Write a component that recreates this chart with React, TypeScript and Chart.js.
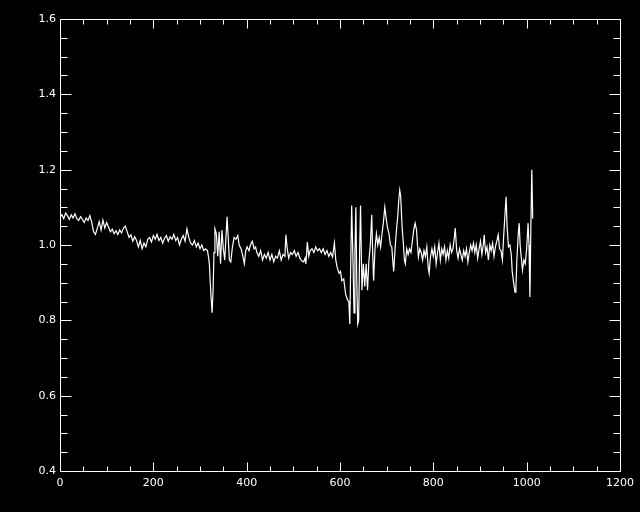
import React, { useEffect, useRef } from "react";
import { Chart, registerables } from "chart.js";

Chart.register(...registerables);

const xs = [
  0, 4, 8, 12, 16, 20, 24, 28, 32, 36, 40, 44, 48, 52, 56, 60, 64, 68, 72, 76, 80, 84, 88, 92, 96, 100,
  104, 108, 112, 116, 120, 124, 128, 132, 136, 140, 144, 148, 152, 156, 160, 164, 168, 172, 176, 180,
  184, 188, 192, 196, 200, 204, 208, 212, 216, 220, 224, 228, 232, 236, 240, 244, 248, 252, 256, 260,
  264, 268, 272, 276, 280, 284, 288, 292, 296, 300, 304, 308, 312, 316, 318, 320, 322, 324, 326, 328,
  330, 332, 335, 338, 341, 344, 347, 350, 353, 356, 358, 360, 363, 366, 369, 373, 377, 381, 384, 388,
  391, 395, 398, 401, 405, 408, 412, 416, 419, 422, 426, 430, 434, 438, 442, 446, 450, 454, 458, 462,
  466, 470, 474, 478, 482, 484, 487, 490, 494, 498, 502, 506, 510, 514, 518, 522, 525, 527, 530, 533,
  536, 540, 544, 548, 552, 556, 560, 564, 568, 572, 576, 580, 584, 588, 591, 594, 598, 601, 604, 608,
  612, 616, 619, 621, 623, 625, 628, 630, 632, 634, 636, 638, 640, 642, 644, 647, 650, 653, 656, 659,
  662, 665, 668, 670, 672, 675, 678, 681, 684, 687, 690, 693, 696, 699, 702, 705, 708, 711, 713, 715,
  718, 721, 724, 726, 728, 730, 733, 736, 738, 740, 743, 746, 749, 752, 755, 758, 761, 764, 766, 768,
  771, 774, 777, 780, 783, 786, 789, 791, 794, 797, 800, 803, 806, 809, 812, 815, 818, 821, 824, 827,
  830, 833, 836, 839, 842, 845, 847, 850, 853, 856, 859, 862, 865, 868, 871, 874, 877, 880, 883, 886,
  889, 892, 895, 898, 901, 904, 907, 909, 912, 915, 918, 921, 924, 927, 930, 933, 936, 939, 942, 945,
  948, 951, 954, 956, 958, 961, 964, 967, 969, 972, 975, 977, 979, 982, 984, 986, 989, 991, 994, 997,
  1000, 1003, 1005, 1007, 1009, 1011, 1013,
];

const ys = [
  1.075, 1.08, 1.07, 1.085, 1.078, 1.068, 1.08, 1.072, 1.083, 1.07, 1.065, 1.075, 1.068, 1.06, 1.072, 1.065,
  1.078, 1.06, 1.035, 1.028, 1.045, 1.062, 1.04, 1.066, 1.045, 1.06, 1.048, 1.035, 1.042, 1.03, 1.038,
  1.028, 1.04, 1.032, 1.045, 1.05, 1.035, 1.02, 1.027, 1.01, 1.022, 1.012, 0.995, 1.012, 0.99, 1.005,
  0.995, 1.015, 1.02, 1.008, 1.025, 1.015, 1.028, 1.012, 1.02, 1.005, 1.018, 1.025, 1.01, 1.022, 1.015,
  1.028, 1.012, 1.02, 1.0, 1.015, 1.025, 1.01, 1.043, 1.02, 1.005, 1.0, 1.012, 0.995, 1.005, 0.99, 1.0,
  0.985, 0.99, 0.985, 0.97, 0.95, 0.9, 0.855, 0.82, 0.88, 0.98, 1.043, 1.03, 0.97, 1.035, 0.95, 1.04,
  0.99, 0.96, 1.03, 1.075, 1.03, 0.96, 0.955, 0.99, 1.02, 1.015, 1.025, 1.0, 0.99, 0.975, 0.95, 0.985,
  0.995, 0.985, 1.0, 1.01, 0.99, 0.995, 0.98, 0.97, 0.985, 0.96, 0.975, 0.965, 0.98, 0.96, 0.975, 0.955,
  0.97, 0.965, 0.985, 0.96, 0.975, 0.97, 1.027, 0.99, 0.965, 0.98, 0.975, 0.985, 0.97, 0.98, 0.965,
  0.958, 0.955, 0.965, 0.95, 1.008, 0.97, 0.985, 0.99, 0.98, 0.995, 0.985, 0.99, 0.98, 0.99, 0.975,
  0.985, 0.97, 0.98, 0.968, 1.005, 0.96, 0.94, 0.925, 0.93, 0.905, 0.91, 0.87, 0.854, 0.85, 0.79, 0.95,
  1.105, 0.95, 0.82, 0.98, 1.1, 0.9, 0.79, 0.8, 0.98, 1.105, 0.88, 0.95, 0.89, 0.95, 0.88, 0.96, 1.0,
  1.08, 0.98, 0.905, 0.99, 1.03, 1.0, 1.02, 0.995, 1.03, 1.06, 1.1, 1.07, 1.045, 1.03, 1.0, 0.995, 0.96,
  0.93, 0.99, 1.04, 1.08, 1.12, 1.146, 1.13, 1.05, 1.0, 0.96, 0.95, 0.99, 0.975, 0.99, 0.98, 1.01, 1.04,
  1.058, 1.04, 1.0, 0.968, 0.99, 0.98, 0.96, 0.985, 0.97, 0.995, 0.94, 0.925, 0.97, 0.99, 0.97, 0.995,
  0.95, 0.98, 1.005, 0.96, 0.99, 0.975, 0.995, 0.96, 0.985, 0.965, 1.0, 0.98, 0.99, 1.02, 1.045, 0.985,
  0.965, 0.99, 0.975, 0.96, 0.985, 0.97, 0.99, 0.955, 0.98, 1.0, 0.985, 1.005, 0.98, 1.0, 0.965, 0.99,
  1.01, 0.975, 1.0, 1.027, 0.98, 0.995, 0.96, 1.0, 0.985, 1.005, 0.97, 0.995, 1.01, 1.027, 0.99, 0.985,
  0.96, 1.03, 1.09, 1.128, 1.05, 0.995, 1.0, 0.975, 0.93, 0.9, 0.875, 0.89, 0.96, 1.03, 1.058, 1.0, 0.96,
  0.933, 0.96, 0.95, 0.99, 1.058, 1.0, 0.862, 1.05, 1.2, 1.07,
];

const X_MIN = 0;
const X_MAX = 1200;
const X_MAJOR = 200;
const X_MINOR = 50;
const Y_MIN = 0.4;
const Y_MAX = 1.6;
const Y_MAJOR = 0.2;
const Y_MINOR = 0.05;

const idlAxes = {
  id: "idlAxes",
  afterDatasetsDraw(chart: any) {
    const { ctx, chartArea, scales } = chart;
    const { left, right, top, bottom } = chartArea;
    const L = Math.round(left) + 0.5;
    const R = Math.round(right) + 0.5;
    const T = Math.round(top) + 0.5;
    const B = Math.round(bottom) + 0.5;
    ctx.save();
    ctx.strokeStyle = "#ffffff";
    ctx.lineWidth = 1;
    ctx.beginPath();
    ctx.rect(L, T, R - L, B - T);
    const nx = Math.round((X_MAX - X_MIN) / X_MINOR);
    for (let i = 0; i <= nx; i++) {
      const v = X_MIN + i * X_MINOR;
      const px = Math.round(scales.x.getPixelForValue(v)) + 0.5;
      const major = i % Math.round(X_MAJOR / X_MINOR) === 0;
      const len = major ? 9 : 5;
      ctx.moveTo(px, B);
      ctx.lineTo(px, B - len);
      ctx.moveTo(px, T);
      ctx.lineTo(px, T + len);
    }
    const ny = Math.round((Y_MAX - Y_MIN) / Y_MINOR);
    for (let i = 0; i <= ny; i++) {
      const v = Y_MIN + i * Y_MINOR;
      const py = Math.round(scales.y.getPixelForValue(v)) + 0.5;
      const major = i % Math.round(Y_MAJOR / Y_MINOR) === 0;
      const len = major ? 11 : 7;
      ctx.moveTo(L, py);
      ctx.lineTo(L + len, py);
      ctx.moveTo(R, py);
      ctx.lineTo(R - len, py);
    }
    ctx.stroke();
    ctx.restore();
  },
};

const bgPlugin = {
  id: "bg",
  beforeDraw(chart: any) {
    const { ctx, width, height } = chart;
    ctx.save();
    ctx.fillStyle = "#000000";
    ctx.fillRect(0, 0, width, height);
    ctx.restore();
  },
};

export default function App() {
  const ref = useRef<HTMLCanvasElement | null>(null);

  useEffect(() => {
    document.body.style.margin = "0";
    document.body.style.background = "#000";
    const canvas = ref.current;
    if (!canvas) return;
    const points = xs.map((x, i) => ({ x, y: ys[i] }));
    const chart = new Chart(canvas, {
      type: "line",
      data: {
        datasets: [
          {
            data: points,
            borderColor: "#ffffff",
            borderWidth: 1.2,
            pointRadius: 0,
            tension: 0,
            fill: false,
          },
        ],
      },
      options: {
        animation: false,
        responsive: false,
        maintainAspectRatio: false,
        layout: { padding: { top: 19, right: 17, left: 0, bottom: 0 } },
        plugins: {
          legend: { display: false },
          tooltip: { enabled: false },
        },
        scales: {
          x: {
            type: "linear",
            min: X_MIN,
            max: X_MAX,
            grid: { display: false, drawTicks: false },
            border: { display: false },
            afterFit: (s: any) => {
              s.height = 41;
            },
            ticks: {
              stepSize: X_MAJOR,
              color: "#ffffff",
              padding: 6,
              maxRotation: 0,
              autoSkip: false,
              font: { family: "DejaVu Sans", size: 11 },
              callback: (v: any) => String(v),
            },
          },
          y: {
            type: "linear",
            min: Y_MIN,
            max: Y_MAX,
            grid: { display: false, drawTicks: false },
            border: { display: false },
            afterFit: (s: any) => {
              s.width = 60;
            },
            ticks: {
              stepSize: Y_MAJOR,
              color: "#ffffff",
              padding: 4,
              autoSkip: false,
              font: { family: "DejaVu Sans", size: 11 },
              callback: (v: any) => Number(v).toFixed(1),
            },
          },
        },
      },
      plugins: [bgPlugin, idlAxes],
    });
    return () => chart.destroy();
  }, []);

  return (
    <div style={{ width: 640, height: 512, background: "#000" }}>
      <canvas ref={ref} width={640} height={512} style={{ display: "block" }} />
    </div>
  );
}
